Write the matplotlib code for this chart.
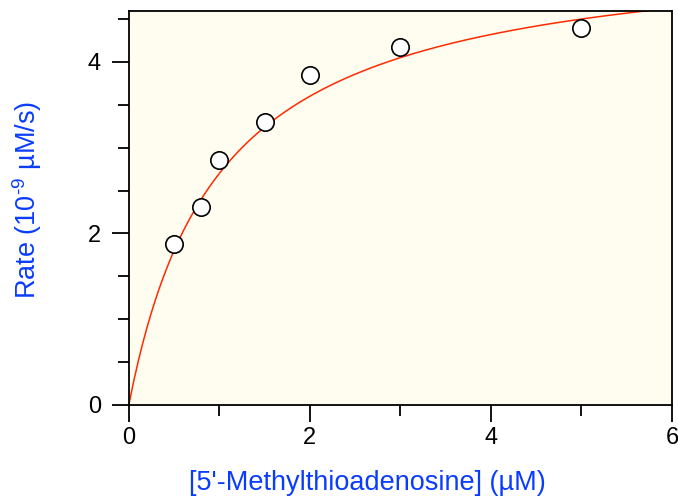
import numpy as np
import matplotlib.pyplot as plt
from matplotlib.ticker import MultipleLocator

# substrate concentration (uM) and measured rates (1e-9 uM/s)
conc = [0.5, 0.8, 1.0, 1.5, 2.0, 3.0, 5.0]
rate = [1.88, 2.31, 2.86, 3.30, 3.85, 4.18, 4.40]

# Michaelis-Menten fit parameters
vmax = 5.4
km = 1.0

plt.rcParams['font.family'] = ['Liberation Sans', 'DejaVu Sans']
plt.rcParams['mathtext.fontset'] = 'custom'
plt.rcParams['mathtext.rm'] = 'Liberation Sans'
plt.rcParams['mathtext.it'] = 'Liberation Sans'

fig = plt.figure(figsize=(6.78, 4.96), dpi=100)
ax = fig.add_axes([0.190, 0.1835, 0.801, 0.7945])
ax.set_facecolor('#fffdf0')

s = np.linspace(0, 6, 400)
ax.plot(s, vmax * s / (km + s), color='#ff2a00', lw=1.1, zorder=2)
ax.plot(conc, rate, 'o', ms=12.5, mfc='white', mec='black', mew=1.2, zorder=3)

ax.set_xlim(0, 6)
ax.set_ylim(0, 4.595)

ax.xaxis.set_major_locator(MultipleLocator(2))
ax.xaxis.set_minor_locator(MultipleLocator(1))
ax.yaxis.set_major_locator(MultipleLocator(2))
ax.yaxis.set_minor_locator(MultipleLocator(0.5))

ax.tick_params(which='major', direction='out', length=12, width=1.3, labelsize=17, colors='black')
ax.tick_params(which='minor', direction='out', length=8, width=1.3)
ax.tick_params(axis='y', which='major', pad=8)
ax.tick_params(axis='x', which='major', pad=4)

for sp in ax.spines.values():
    sp.set_linewidth(1.3)

blue = '#0a3cff'
ax.set_xlabel("[5'-Methylthioadenosine] (\u00b5M)", fontsize=19.5, color=blue)
ax.set_ylabel('Rate (10$^{\\mathrm{\u2010}9}$ \u00b5M/s)', fontsize=19.5, color=blue)
ax.xaxis.set_label_coords(0.44, -0.165)
ax.yaxis.set_label_coords(-0.157, 0.52)

fig.savefig('out.png', dpi=100)
